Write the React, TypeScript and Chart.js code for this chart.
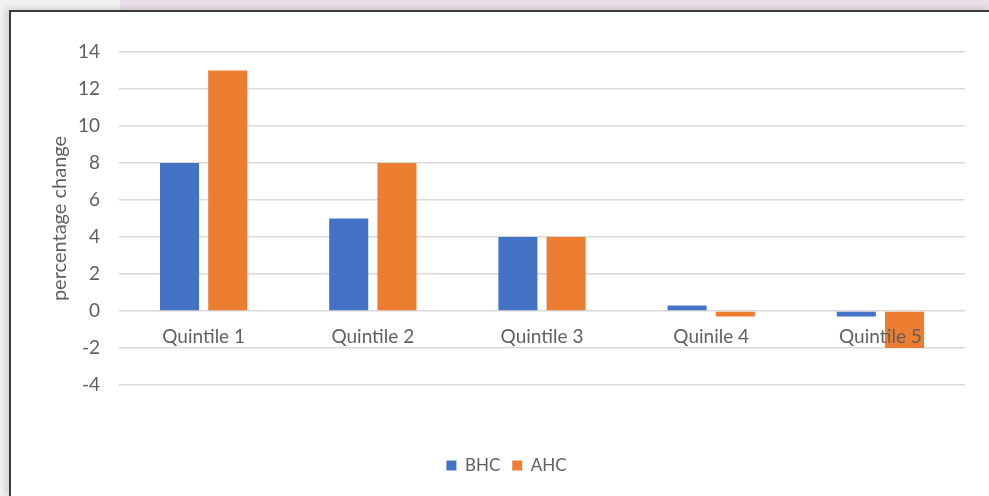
import React, { useEffect, useRef } from "react";
import { Chart, registerables } from "chart.js";

Chart.register(...registerables);

const categories = ["Quintile 1", "Quintile 2", "Quintile 3", "Quinile 4", "Quintile 5"];
const bhcValues = [8, 5, 4, 0.3, -0.3];
const ahcValues = [13, 8, 4, -0.3, -2];
const yTitle = "percentage change";
const seriesNames = ["BHC", "AHC"];

const FONT = "Lato, 'Open Sans', sans-serif";
const GRAY = "#5f5f5f";

export default function App() {
  const ref = useRef<HTMLCanvasElement | null>(null);

  useEffect(() => {
    document.body.style.margin = "0";
    const ctx = ref.current!;
    const chart = new Chart(ctx, {
      type: "bar",
      data: {
        labels: categories,
        datasets: [
          {
            label: seriesNames[0],
            data: bhcValues,
            backgroundColor: "#4472C4",
            categoryPercentage: 0.57,
            barPercentage: 0.81,
          },
          {
            label: seriesNames[1],
            data: ahcValues,
            backgroundColor: "#ED7D31",
            categoryPercentage: 0.57,
            barPercentage: 0.81,
          },
        ],
      },
      options: {
        animation: false,
        responsive: false,
        maintainAspectRatio: false,
        layout: { padding: { top: 40, right: 24, left: 37, bottom: 12 } },
        plugins: {
          legend: {
            position: "bottom",
            labels: {
              boxWidth: 10,
              boxHeight: 10,
              color: GRAY,
              font: { family: FONT, size: 17 },
              padding: 12,
            },
          },
          tooltip: { enabled: false },
        },
        scales: {
          x: {
            position: { y: 0 } as any,
            grid: { display: false, drawTicks: false },
            border: { display: false },
            ticks: {
              z: 1,
              color: GRAY,
              font: { family: FONT, size: 19 },
              padding: 14,
              maxRotation: 0,
            },
          },
          xSpace: {
            type: "category",
            position: "bottom",
            grid: { display: false, drawTicks: false },
            border: { display: false },
            ticks: { display: false },
            afterFit: (scale: any) => {
              scale.height = 60;
            },
          },
          y: {
            min: -4,
            max: 14,
            grid: { color: "#d9d9d9", lineWidth: 1.5, drawTicks: false },
            border: { display: false },
            ticks: {
              stepSize: 2,
              color: GRAY,
              font: { family: FONT, size: 19 },
              padding: 19,
            },
            title: {
              display: true,
              text: yTitle,
              color: GRAY,
              font: { family: FONT, size: 20 },
              padding: { top: 0, bottom: -13 },
            },
          },
        },
      },
    });
    return () => chart.destroy();
  }, []);

  return (
    <div
      style={{
        position: "fixed",
        left: 0,
        top: 0,
        width: 989,
        height: 496,
        background: "#f2f2f2",
        overflow: "hidden",
      }}
    >
      <div
        style={{
          position: "absolute",
          left: 120,
          top: 0,
          width: 869,
          height: 11,
          background: "#e9dde7",
        }}
      />
      <div
        style={{
          position: "absolute",
          left: 9,
          top: 10,
          width: 980,
          height: 486,
          background: "#ffffff",
          borderLeft: "2px solid #3a3a3a",
          borderTop: "2px solid #3a3a3a",
          boxShadow: "-4px -2px 6px rgba(0,0,0,0.12)",
        }}
      >
        <canvas ref={ref} width={978} height={484} style={{ display: "block" }} />
      </div>
    </div>
  );
}
